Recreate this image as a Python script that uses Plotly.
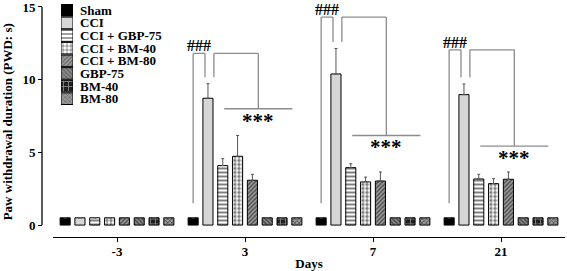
import plotly.graph_objects as go

# ---------------- data ----------------
days = ["-3", "3", "7", "21"]
groups = ["Sham", "CCI", "CCI + GBP-75", "CCI + BM-40", "CCI + BM-80", "GBP-75", "BM-40", "BM-80"]

sham      = [0.5, 0.5, 0.5, 0.5]
cci       = [0.5, 8.72, 10.39, 8.97]
cci_gbp75 = [0.5, 4.09, 3.95, 3.17]
cci_bm40  = [0.5, 4.73, 2.97, 2.85]
cci_bm80  = [0.5, 3.08, 3.03, 3.15]
gbp75     = [0.5, 0.5, 0.5, 0.5]
bm40      = [0.5, 0.5, 0.5, 0.5]
bm80      = [0.5, 0.5, 0.5, 0.5]

err_sham      = [0, 0, 0, 0]
err_cci       = [0, 1.0, 1.75, 0.73]
err_cci_gbp75 = [0, 0.48, 0.27, 0.32]
err_cci_bm40  = [0, 1.43, 0.33, 0.34]
err_cci_bm80  = [0, 0.41, 0.62, 0.50]
err_gbp75     = [0, 0, 0, 0]
err_bm40      = [0, 0, 0, 0]
err_bm80      = [0, 0, 0, 0]

values = [sham, cci, cci_gbp75, cci_bm40, cci_bm80, gbp75, bm40, bm80]
errors = [err_sham, err_cci, err_cci_gbp75, err_cci_bm40, err_cci_bm80, err_gbp75, err_bm40, err_bm80]

# significance annotation levels (data units) for days 3, 7, 21
sig_days = [1, 2, 3]
hash_top = [11.8, 14.3, 12.05]   # top of "###" brackets
star_line = [8.0, 6.16, 5.43]    # horizontal line above treated groups
y_ticks = [0, 5, 10, 15]

# ---------------- styles ----------------
FONT = "Liberation Serif"
fills = ["black", "#d6d6d6", "white", "white", "#9a9a9a", "#8a8a8a", "#202020", "#9a9a9a"]
shapes_p = ["", "", "-", ".", "/", "\\", "+", "x"]
fgs = ["black", "black", "black", "black", "black", "black", "white", "black"]
sizes = [4, 4, 4, 4, 3, 3, 5, 3]
solid = [0.3, 0.3, 0.5, 0.55, 0.45, 0.45, 0.3, 0.45]

BARGAP = 0.074
BARGROUPGAP = 0.32
NG = len(groups)
slot = (1 - BARGAP) / NG

fig = go.Figure()
for i, g in enumerate(groups):
    fig.add_trace(go.Bar(
        x=list(range(len(days))), y=values[i], name=g, showlegend=False,
        marker=dict(color=fills[i], line=dict(color="black", width=1),
                    pattern=dict(shape=shapes_p[i], fgcolor=fgs[i], bgcolor=fills[i],
                                 size=sizes[i], solidity=solid[i])),
        error_y=dict(type="data", array=errors[i], arrayminus=[0] * len(days),
                     color="#555555", thickness=1, width=1.5, visible=True),
    ))

# custom compact legend (horizontal bars on small axes)
fig.add_trace(go.Bar(
    x=[1] * NG, y=list(range(NG)), orientation="h", width=[0.92] * NG,
    xaxis="x2", yaxis="y2", showlegend=False, hoverinfo="skip",
    marker=dict(color=fills, line=dict(color="black", width=1),
                pattern=dict(shape=shapes_p, fgcolor=fgs, bgcolor=fills,
                             size=sizes, solidity=solid)),
))

annotations = []
for i, g in enumerate(groups):
    annotations.append(dict(x=1, y=i, xref="x2", yref="y2", text="<b>%s</b>" % g,
                            showarrow=False, xanchor="left", xshift=5,
                            font=dict(family=FONT, size=13, color="black")))


def bx(day, k):
    return day + (k - (NG - 1) / 2) * slot


shapes = []
line_style = dict(color="#8c8c8c", width=1.3)
for d, top, sl in zip(sig_days, hash_top, star_line):
    cci_top = values[1][d] + errors[1][d] + 0.45
    sham_top = values[0][d] + 1.0
    # ### bracket: Sham vs CCI
    shapes.append(dict(type="line", xref="x", yref="y", x0=bx(d, 0), x1=bx(d, 0), y0=sham_top, y1=top, line=line_style))
    shapes.append(dict(type="line", xref="x", yref="y", x0=bx(d, 0), x1=bx(d, 0.8), y0=top, y1=top, line=line_style))
    shapes.append(dict(type="line", xref="x", yref="y", x0=bx(d, 0.8), x1=bx(d, 0.8), y0=top, y1=cci_top, line=line_style))
    annotations.append(dict(x=bx(d, 0.4), y=top, xref="x", yref="y", text="<b>###</b>", showarrow=False,
                            yanchor="bottom", yshift=-3, font=dict(family=FONT, size=16, color="black")))
    # *** bracket: CCI vs treated
    mid = (2.1 + 6.7) / 2
    shapes.append(dict(type="line", xref="x", yref="y", x0=bx(d, 1.4), x1=bx(d, 1.4), y0=cci_top, y1=top, line=line_style))
    shapes.append(dict(type="line", xref="x", yref="y", x0=bx(d, 1.4), x1=bx(d, mid), y0=top, y1=top, line=line_style))
    shapes.append(dict(type="line", xref="x", yref="y", x0=bx(d, mid), x1=bx(d, mid), y0=top, y1=sl, line=line_style))
    shapes.append(dict(type="line", xref="x", yref="y", x0=bx(d, 2.1), x1=bx(d, 6.7), y0=sl, y1=sl, line=line_style))
    annotations.append(dict(x=bx(d, mid), y=sl, xref="x", yref="y", text="<b>***</b>", showarrow=False,
                            yanchor="top", yshift=2, font=dict(family=FONT, size=21, color="black")))

# y axis line only from 0 to 15 (offset axis style)
shapes.append(dict(type="line", xref="paper", yref="y", x0=0, x1=0, y0=y_ticks[0], y1=y_ticks[-1],
                   line=dict(color="black", width=1.3)))

W, H = 567, 271
ML, MR, MT, MB = 42, 2, 4, 34
pw = W - ML - MR
ph = H - MT - MB
bottom_px = H - MB


def ydom(px):
    return min(1.0, max(0.0, (bottom_px - px) / ph))


fig.update_layout(
    width=W, height=H,
    margin=dict(l=ML, r=MR, t=MT, b=MB, autoexpand=False),
    paper_bgcolor="white", plot_bgcolor="white",
    barmode="group", bargap=BARGAP, bargroupgap=BARGROUPGAP,
    font=dict(family=FONT, size=13, color="black"),
    xaxis=dict(domain=[11 / pw, 1], range=[-0.5, 3.5], tickmode="array", automargin=False,
               tickvals=list(range(len(days))), ticktext=["<b>%s</b>" % t for t in days],
               showline=True, linecolor="black", linewidth=1.3, ticks="outside", ticklen=4,
               tickcolor="black", showgrid=False, zeroline=False, ticklabelstandoff=-2,
               title=dict(text="<b>Days</b>", standoff=2, font=dict(family=FONT, size=13))),
    yaxis=dict(domain=[0, ydom(6.5)], range=[-0.82, 15.03], automargin=False,
               anchor="free", position=0, tickmode="array", tickvals=y_ticks,
               ticktext=["<b>%d</b>" % t for t in y_ticks], showline=False, ticks="outside",
               ticklen=4, tickcolor="black", showgrid=False, zeroline=False,
               ticklabeloverflow="allow",
               title=dict(text="<b>Paw withdrawal duration (PWD: s)</b>", standoff=6,
                          font=dict(family=FONT, size=13))),
    xaxis2=dict(domain=[(61 - ML) / pw, (73 - ML) / pw], range=[0, 1], anchor="y2",
                visible=False, fixedrange=True, automargin=False),
    yaxis2=dict(domain=[ydom(105), ydom(4)], range=[7.5, -0.5], anchor="x2",
                visible=False, fixedrange=True, automargin=False),
    shapes=shapes, annotations=annotations,
)

fig.write_html("out.html", config={"displayModeBar": False},
               post_script="document.body.style.margin='0';document.body.style.padding='0';")
